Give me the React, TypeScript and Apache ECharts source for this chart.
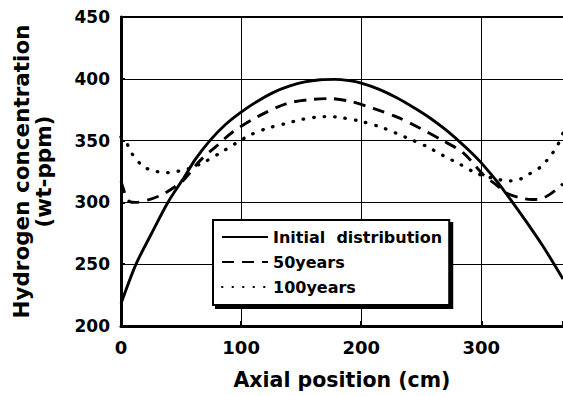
import React, { useEffect, useRef } from "react";
import * as echarts from "echarts";

// Axial position (cm) / hydrogen concentration (wt-ppm)
const xInitial = [0, 12.5, 25, 39, 53, 62, 74, 87, 100, 113, 127, 140, 153, 166, 178, 190, 200, 215, 230, 245, 257, 270, 282, 292, 300, 313, 326, 337, 350, 360, 368];
const yInitial = [218, 250, 274, 300, 321, 335, 350, 363, 373, 381.5, 389, 394, 397.5, 399.2, 399.5, 398.5, 396.5, 391.5, 384.5, 376, 368.5, 359, 349, 340, 332, 317, 300, 285, 266.5, 251, 238];

const x50 = [0, 2, 4, 7, 12, 22.7, 33.8, 40.8, 52, 66, 80, 93, 115, 138, 156, 174, 192, 210, 230, 249, 268, 285, 302, 312, 321, 333, 342, 350, 357, 364, 368];
const y50 = [317, 311, 305, 300.8, 300, 302, 306, 310, 318, 334, 346, 357, 370, 380, 383, 384, 381.5, 376, 369, 360, 350, 340, 322, 314.5, 307.5, 303.5, 302.3, 303, 306.5, 311.5, 315];

const x100 = [0, 4.7, 8.9, 18.5, 27, 36.7, 45, 54.7, 68, 82.5, 95, 107.5, 122, 138, 150, 163, 172, 180, 198, 216, 229, 241, 255, 268, 282, 296, 310, 323, 332, 340, 349, 357.5, 363.6, 368];
const y100 = [353, 348, 339.7, 329, 325.7, 324, 324.8, 326.8, 332, 340, 347.5, 354.5, 360, 364, 367, 369, 369.5, 369, 366, 361, 356, 351, 345, 338, 331, 323.5, 319.5, 317.3, 318.7, 323, 328.4, 337.5, 346.4, 356];

const seriesNames = ["Initial  distribution", "50years", "100years"];
const xTicks = [0, 100, 200, 300];
const yTicks = [200, 250, 300, 350, 400, 450];

const pairs = (xs: number[], ys: number[]) => xs.map((x, i) => [x, ys[i]]);

export default function App() {
  const ref = useRef<HTMLDivElement>(null);
  useEffect(() => {
    const chart = echarts.init(ref.current!, null, { renderer: "svg" });
    const font = "DejaVu Sans";
    const lineBase = { color: "#000" };
    chart.setOption({
      animation: false,
      backgroundColor: "#fff",
      grid: { left: 121, right: 0, top: 17, bottom: 70, containLabel: false, outerBoundsMode: "none" },
      legend: {
        orient: "vertical",
        left: 213,
        top: 220,
        itemWidth: 46,
        itemHeight: 14,
        itemGap: 9,
        padding: [9, 7, 10, 8],
        backgroundColor: "#fff",
        borderColor: "#000",
        borderWidth: 2,
        borderRadius: 0,
        shadowColor: "#000",
        shadowBlur: 0,
        shadowOffsetX: 3,
        shadowOffsetY: 3,
        itemStyle: { color: "rgba(0,0,0,0)", borderColor: "rgba(0,0,0,0)", borderWidth: 0 },
        textStyle: { fontFamily: font, fontWeight: "bold", fontSize: 16, color: "#000", lineHeight: 16 },
        data: seriesNames,
      },
      xAxis: [
        {
          type: "value",
          min: 0,
          max: 368,
          interval: 100,
          position: "bottom",
          axisLine: { show: true, onZero: false, lineStyle: { color: "#000", width: 3 } },
          axisTick: { show: true, inside: true, length: 5, lineStyle: { color: "#000", width: 2 } },
          splitLine: { show: true, lineStyle: { color: "#000", width: 1 } },
          axisLabel: {
            margin: 12,
            fontFamily: font,
            fontWeight: "bold",
            fontSize: 18,
            color: "#000",
            formatter: (v: number) => (xTicks.includes(v) ? String(v) : ""),
          },
          name: "Axial position (cm)",
          nameLocation: "middle",
          nameGap: 43,
          nameTextStyle: { fontFamily: font, fontWeight: "bold", fontSize: 20.5, color: "#000" },
        },
        {
          type: "value",
          min: 0,
          max: 368,
          position: "top",
          axisLine: { show: true, onZero: false, lineStyle: { color: "#000", width: 2 } },
          axisTick: { show: false },
          axisLabel: { show: false },
          splitLine: { show: false },
        },
      ],
      yAxis: {
        type: "value",
        min: 200,
        max: 450,
        interval: 50,
        axisLine: { show: true, onZero: false, lineStyle: { color: "#000", width: 3 } },
        axisTick: { show: true, inside: true, length: 4, lineStyle: { color: "#000", width: 2 } },
        splitLine: { show: true, lineStyle: { color: "#000", width: 1 } },
        axisLabel: {
          margin: 11,
          fontFamily: font,
          fontWeight: "bold",
          fontSize: 17,
          color: "#000",
          formatter: (v: number) => (yTicks.includes(v) ? String(v) : ""),
        },
        name: "Hydrogen concentration\n(wt-ppm)",
        nameLocation: "middle",
        nameRotate: 90,
        nameGap: 67,
        nameTextStyle: { fontFamily: font, fontWeight: "bold", fontSize: 21.5, lineHeight: 22, color: "#000", align: "center" },
      },
      series: [
        {
          name: seriesNames[0],
          type: "line",
          data: pairs(xInitial, yInitial),
          smooth: 0.3,
          symbol: "none",
          lineStyle: { ...lineBase, width: 2.9, type: "solid" },
          itemStyle: { color: "#000" },
        },
        {
          name: seriesNames[1],
          type: "line",
          data: pairs(x50, y50),
          smooth: 0.3,
          symbol: "none",
          lineStyle: { ...lineBase, width: 2.9, type: [12, 8] },
          itemStyle: { color: "#000" },
        },
        {
          name: seriesNames[2],
          type: "line",
          data: pairs(x100, y100),
          smooth: 0.3,
          symbol: "none",
          lineStyle: { ...lineBase, width: 3.3, type: [0.5, 10], cap: "round" },
          itemStyle: { color: "#000" },
        },
      ],
    });
    return () => chart.dispose();
  }, []);
  return <div ref={ref} style={{ position: "absolute", left: 0, top: 0, width: 563, height: 396 }} />;
}
